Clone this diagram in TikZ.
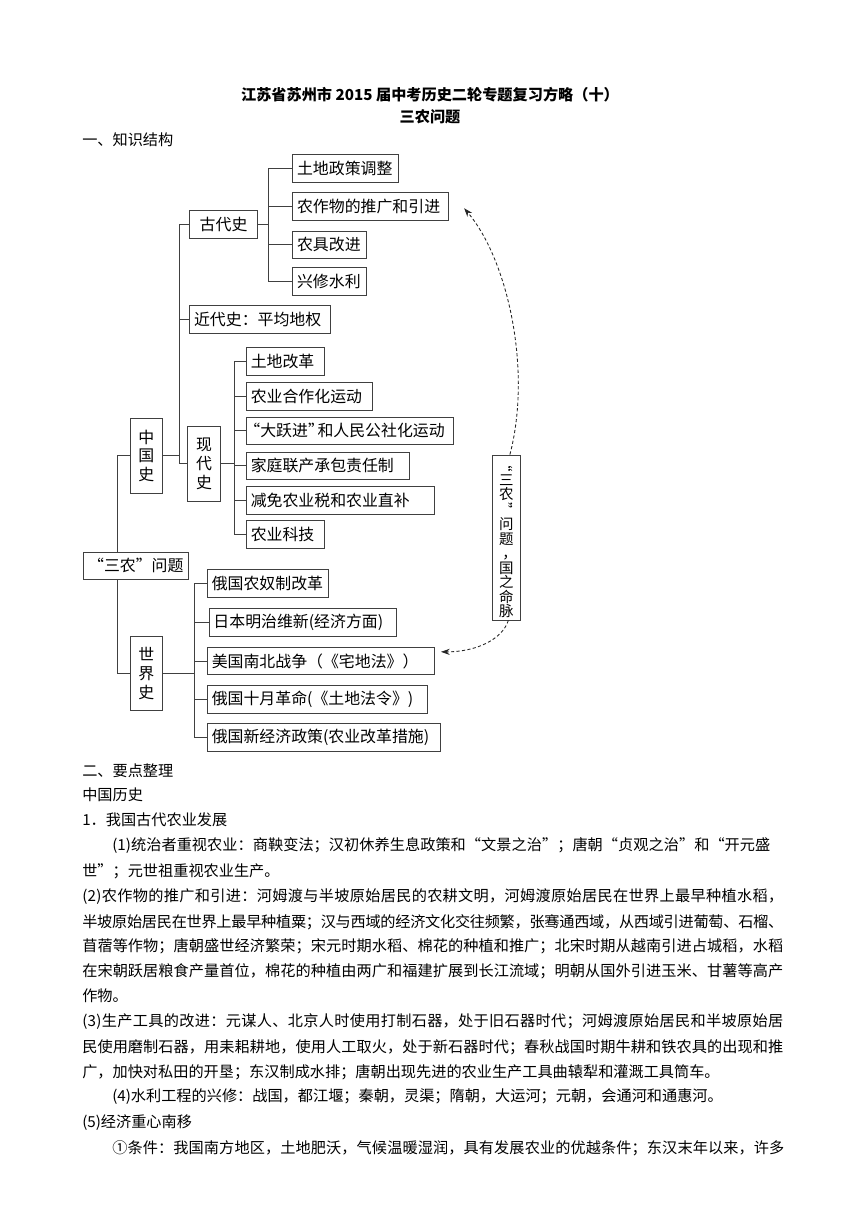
\documentclass[tikz,border=0pt]{standalone}
\usepackage{fontspec}
\setmainfont{Noto Sans CJK SC}
\usepackage{graphicx}
\usetikzlibrary{arrows.meta}

% justified line: glue between every token
\newcommand\jline[2]{\hbox to #1{\jlstep#2\relax\unskip}}
\def\jlstep#1{\ifx#1\relax\else#1\hskip 0pt plus 1fil minus 1pt\relax\expandafter\jlstep\fi}
\newcommand\vq[1]{\rotatebox[origin=c]{-90}{#1}}
\newcommand\openq{\kern-.4em“}
\newcommand\closeq{”\kern-.4em}

\tikzset{
  box/.style={draw=black!75, line width=0.6pt, anchor=west, minimum height=19.1pt,
    inner xsep=3pt, inner ysep=2pt, align=left, font=\fontsize{11}{13}\selectfont},
  vbox/.style={draw=black!75, line width=0.6pt, align=center, inner sep=0pt,
    font=\fontsize{11}{13}\selectfont},
  conn/.style={black!75, line width=0.6pt},
  hint/.style={black!85, line width=0.6pt, dash pattern=on 2.2pt off 1.6pt,
    -{Stealth[length=6pt,width=4.2pt]}},
  bodyline/.style={anchor=west, inner sep=0pt, font=\fontsize{10.5}{12}\selectfont},
  headline/.style={inner sep=0pt, font=\fontsize{10.5}{12}\selectfont\bfseries},
}

\begin{document}
\begin{tikzpicture}[x=0.6919pt, y=-0.6919pt]
  \path[fill=white, use as bounding box] (0,0) rectangle (860,1216);

  \node[headline] (title) at (430,95) {江苏省苏州市 2015 届中考历史二轮专题复习方略（十）};
  \node[headline] (subtitle) at (430,117) {三农问题};
  \node[bodyline] (part1) at (82,140) {一、知识结构};

  % tree
  \node[box, text width=66.9pt, align=center] (sannong) at (82.7,565.8) {“三农”问题};
  \node[vbox, minimum width=22.1pt, minimum height=51.9pt] (zhongguo) at (146.3,455.8) {中\\国\\史};
  \node[vbox, minimum width=22.1pt, minimum height=51.2pt] (shijie) at (146.3,673.3) {世\\界\\史};

  \node[box, text width=40.8pt, align=center] (gudai) at (189.3,224.7) {古代史};
  \node[box, text width=91.4pt] (jindai) at (189.3,319.2) {近代史：平均地权};
  \node[vbox, minimum width=22.6pt, minimum height=51.9pt] (xiandai) at (204,463.8) {现\\代\\史};

  \node[box, text width=66.9pt] (g1) at (292.3,168.5) {土地政策调整};
  \node[box, text width=101.9pt] (g2) at (292.3,206.5) {农作物的推广和引进};
  \node[box, text width=44.8pt] (g3) at (292.3,244.8) {农具改进};
  \node[box, text width=44.8pt] (g4) at (292.3,281.5) {兴修水利};

  \node[box, text width=48.2pt] (x1) at (246,361.3) {土地改革};
  \node[box, text width=81.4pt] (x2) at (246,396.5) {农业合作化运动};
  \node[box, text width=137.4pt] (x3) at (246,430.8) {\openq 大跃进\closeq 和人民公社化运动};
  \node[box, text width=106.6pt] (x4) at (246,465.8) {家庭联产承包责任制};
  \node[box, text width=124.1pt] (x5) at (246,500.3) {减免农业税和农业直补};
  \node[box, text width=48.2pt] (x6) at (246,534.7) {农业科技};

  \node[box, text width=77.9pt] (w1) at (207,583.2) {俄国农奴制改革};
  \node[box, text width=123.4pt] (w2) at (208.7,622.5) {日本明治维新(经济方面)};
  \node[box, text width=151.1pt] (w3) at (207,661) {美国南北战争（《宅地法》）};
  \node[box, text width=146pt] (w4) at (207,699.3) {俄国十月革命(《土地法令》)};
  \node[box, text width=155.2pt] (w5) at (207,737.5) {俄国新经济政策(农业改革措施)};

  \node[vbox, minimum width=19.4pt, minimum height=114.2pt, font=\fontsize{10}{10}\selectfont]
    (note) at (506.3,537.5) {\vq{“}\\三\\农\\\vq{”}\\问\\题\\\hspace{.45em}，\\国\\之\\命\\脉};

  \draw[conn] (zhongguo.west) -- ++(-12,0) coordinate (rj) -- (rj |- sannong.north);
  \draw[conn] (shijie.west) -- ++(-12,0) coordinate (rk) -- (rk |- sannong.south);
  \foreach \c in {gudai,jindai,xiandai}
    \draw[conn] (zhongguo.east) -- ++(16.7,0) |- (\c.west);
  \foreach \c in {g1,g2,g3,g4}
    \draw[conn] (gudai.east) -- ++(10.3,0) |- (\c.west);
  \foreach \c in {x1,x2,x3,x4,x5,x6}
    \draw[conn] (xiandai.east) -- ++(13.4,0) |- (\c.west);
  \foreach \c in {w1,w2,w3,w4,w5}
    \draw[conn] (shijie.east) -- ++(32,0) |- (\c.west);

  \draw[hint] ([xshift=2.5pt]note.north) .. controls (532,370) and (508,260) .. ([xshift=10.4pt,yshift=-1.2pt]g2.east);
  \draw[hint] ([xshift=1.4pt]note.south) .. controls (502,640) and (475,652) .. ([xshift=4.2pt,yshift=-3.5pt]w3.north east);

  % text below
  \node[bodyline] (p1) at (82,771) {二、要点整理};
  \node[bodyline] (p2) at (82,795) {中国历史};
  \node[bodyline] (p3) at (82,820) {1．我国古代农业发展};
  \node[bodyline] (p4) at (112,846) {\jline{455.3pt}{(1)统治者重视农业：商鞅变法；汉初休养生息政策和“文景之治”；唐朝“贞观之治”和“开元盛}};
  \node[bodyline] (p5) at (82,871) {世”；元世祖重视农业生产。};
  \node[bodyline] (p6) at (82,897) {\jline{485pt}{(2)农作物的推广和引进：河姆渡与半坡原始居民的农耕文明，河姆渡原始居民在世界上最早种植水稻，}};
  \node[bodyline] (p7) at (82,922) {\jline{485pt}{半坡原始居民在世界上最早种植粟；汉与西域的经济文化交往频繁，张骞通西域，从西域引进葡萄、石榴、}};
  \node[bodyline] (p8) at (82,946) {\jline{485pt}{苜蓿等作物；唐朝盛世经济繁荣；宋元时期水稻、棉花的种植和推广；北宋时期从越南引进占城稻，水稻}};
  \node[bodyline] (p9) at (82,971) {\jline{485pt}{在宋朝跃居粮食产量首位，棉花的种植由两广和福建扩展到长江流域；明朝从国外引进玉米、甘薯等高产}};
  \node[bodyline] (p10) at (82,996) {作物。};
  \node[bodyline] (p11) at (82,1022) {\jline{485pt}{(3)生产工具的改进：元谋人、北京人时使用打制石器，处于旧石器时代；河姆渡原始居民和半坡原始居}};
  \node[bodyline] (p12) at (82,1047) {\jline{485pt}{民使用磨制石器，用耒耜耕地，使用人工取火，处于新石器时代；春秋战国时期牛耕和铁农具的出现和推}};
  \node[bodyline] (p13) at (82,1072) {广，加快对私田的开垦；东汉制成水排；唐朝出现先进的农业生产工具曲辕犁和灌溉工具筒车。};
  \node[bodyline] (p14) at (112,1097) {(4)水利工程的兴修：战国，都江堰；秦朝，灵渠；隋朝，大运河；元朝，会通河和通惠河。};
  \node[bodyline] (p15) at (82,1123) {(5)经济重心南移};
  \node[bodyline] (p16) at (112,1148) {\jline{465pt}{①条件：我国南方地区，土地肥沃，气候温暖湿润，具有发展农业的优越条件；东汉末年以来，许多}};
\end{tikzpicture}
\end{document}
